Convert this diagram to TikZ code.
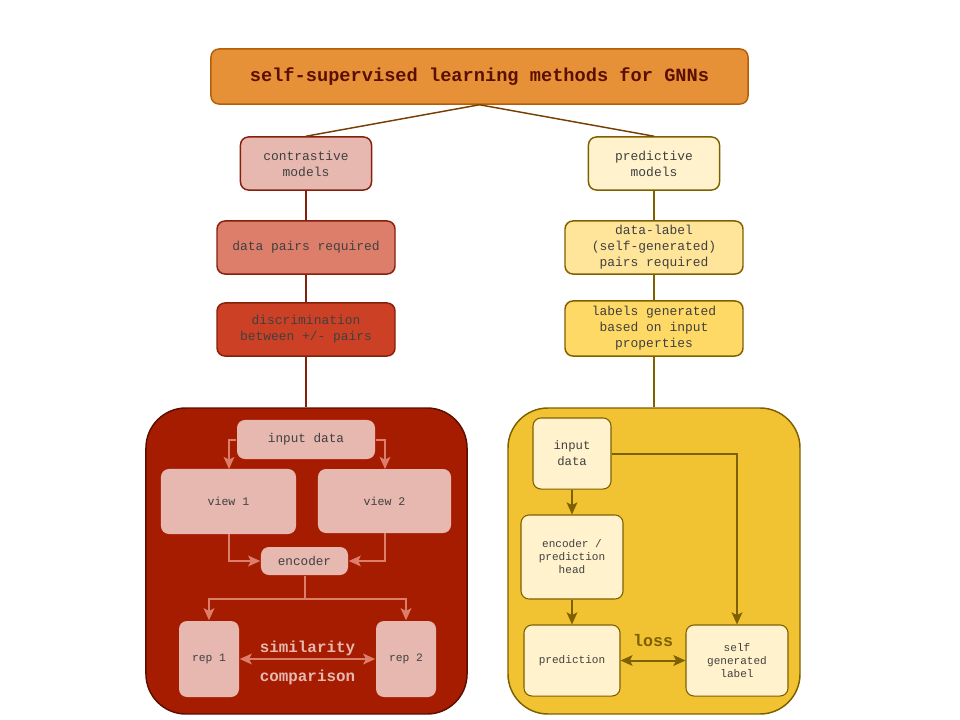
\documentclass[tikz,border=0pt]{standalone}
\usepackage{fontspec}
\setmonofont{Liberation Mono}
\usetikzlibrary{arrows.meta,positioning}
\usepackage{xcolor}
\definecolor{orangeF}{HTML}{E69138}
\definecolor{orangeD}{HTML}{B45F06}
\definecolor{brownT}{HTML}{5B0F00}
\definecolor{brownL}{HTML}{783F04}
\definecolor{redA}{HTML}{E6B8AF}
\definecolor{redB}{HTML}{DD7E6B}
\definecolor{redC}{HTML}{CC4125}
\definecolor{redD}{HTML}{A61C00}
\definecolor{redE}{HTML}{85200C}
\definecolor{yelA}{HTML}{FFF2CC}
\definecolor{yelB}{HTML}{FFE599}
\definecolor{yelC}{HTML}{FFD966}
\definecolor{yelD}{HTML}{F1C232}
\definecolor{yelE}{HTML}{7F6000}
\definecolor{txt}{HTML}{404040}

\begin{document}
\begin{tikzpicture}[
      x=0.75pt, y=-0.75pt,
      box/.style={draw, rounded corners=6pt, line width=1.1pt, align=center, text=txt,
                  font=\ttfamily\fontsize{9.7}{12}\selectfont, inner sep=0pt},
      red/.style={box, draw=redE, minimum width=133.5pt, minimum height=39.8pt},
      yel/.style={box, draw=yelE, minimum width=133.5pt, minimum height=39.8pt},
      group/.style={draw, rounded corners=30pt, line width=1.1pt, minimum width=#1, minimum height=229.5pt},
      inl/.style={box, draw=none, fill=redA},
      inr/.style={box, draw=yelE, line width=0.8pt, fill=yelA, font=\ttfamily\fontsize{8.3}{9.75}\selectfont},
      link/.style={line width=1.1pt},
      tip/.tip={Stealth[length=9pt,width=8pt,inset=2pt]},
      arrl/.style={-tip, line width=1.5pt, redB},
      arrr/.style={-tip, line width=1.5pt, yelE}
    ]
    \useasboundingbox (0,0) rectangle (960,720);

    % top of the tree
    \node[box, fill=orangeF, draw=orangeD, text=brownT, minimum width=402.8pt, minimum height=41.3pt,
          font=\ttfamily\bfseries\fontsize{14}{16}\selectfont] (title) at (479.5,76.5)
          {self-supervised learning methods for GNNs};

    % contrastive branch
    \node[red, fill=redA, minimum width=98.3pt] (contr) at (306,163.5) {contrastive\\models};
    \node[red, fill=redB] (pairs) at (306,247.5) {data pairs required};
    \node[red, fill=redC] (discr) at (306,329.5) {discrimination\\between +/- pairs};

    % predictive branch
    \node[yel, fill=yelA, minimum width=98.3pt] (pred) at (654,163.5) {predictive\\models};
    \node[yel, fill=yelB] (dlab) at (654,247.5) {data-label\\(self-generated)\\pairs required};
    \node[yel, fill=yelC, minimum height=41.3pt] (lgen) at (654,328.5) {labels generated\\based on input\\properties};

    % the two groups
    \node[group=240.8pt, fill=redD, draw=brownT] (cgrp) at (306.5,561) {};
    \node[group=219pt, fill=yelD, draw=yelE] (pgrp) at (654,561) {};

    \draw[link, brownL] (title.south) -- (contr.north);
    \draw[link, brownL] (title.south) -- (pred.north);
    \draw[link, redE] (contr) -- (pairs);
    \draw[link, redE] (pairs) -- (discr);
    \draw[link, redE] (discr.south) -- (cgrp.north -| discr.south);
    \draw[link, yelE] (pred) -- (dlab);
    \draw[link, yelE] (dlab) -- (lgen);
    \draw[link, yelE] (lgen.south) -- (pgrp.north -| lgen.south);

    % inside the contrastive group
    \node[inl, minimum width=103.5pt, minimum height=29.3pt, font=\ttfamily\fontsize{9.5}{11}\selectfont] (inL) at (306,439.5) {input data};
    \node[inl, minimum width=101.3pt, minimum height=48.8pt, font=\ttfamily\fontsize{8.7}{10}\selectfont] (view1) at (228.5,501.5) {view 1};
    \node[inl, minimum width=99.8pt, minimum height=48pt, font=\ttfamily\fontsize{8.7}{10}\selectfont] (view2) at (384.5,501) {view 2};
    \node[inl, minimum width=65.3pt, minimum height=21pt, font=\ttfamily\fontsize{9.5}{11}\selectfont] (enc) at (304.5,561) {encoder};
    \node[inl, minimum width=45pt, minimum height=57pt, font=\ttfamily\fontsize{8.5}{10}\selectfont] (rep1) at (209,659) {rep 1};
    \node[inl, minimum width=45pt, minimum height=57pt, font=\ttfamily\fontsize{8.5}{10}\selectfont] (rep2) at (406,659) {rep 2};

    \draw[arrl] (inL.west) -| (229,469);
    \draw[arrl] (inL.east) -| (385,469);
    \draw[arrl] (229,534) |- (enc.west);
    \draw[arrl] (385,533) |- (enc.east);
    \draw[arrl] (enc.south) -- (304.5,599) -| (rep1.north);
    \draw[arrl] (enc.south) -- (304.5,599) -| (rep2.north);
    \draw[arrl, tip-tip] (rep1) --
      node[above=-1.5pt, text=redA, font=\ttfamily\bfseries\fontsize{11.9}{14}\selectfont] {similarity}
      node[below=4.5pt, text=redA, font=\ttfamily\bfseries\fontsize{11.9}{14}\selectfont] {comparison} (rep2);

    % inside the predictive group
    \node[inr, minimum width=58.5pt, minimum height=53.3pt, font=\ttfamily\fontsize{9.2}{12}\selectfont] (inR) at (572,453.5) {input\\data};
    \node[inr, minimum width=76.5pt, minimum height=63pt] (head) at (572,557) {encoder /\\prediction\\head};
    \node[inr, minimum width=72pt, minimum height=53.3pt] (predn) at (572,660.5) {prediction};
    \node[inr, minimum width=76.5pt, minimum height=53.3pt] (slab) at (737,660.5) {self\\generated\\label};

    \draw[arrr] (inR) -- (head);
    \draw[arrr] (head) -- (predn);
    \draw[arrr] (inR.east) -| (slab.north);
    \draw[arrr, tip-tip] (predn) --
      node[above=6pt, text=yelE, font=\ttfamily\bfseries\fontsize{12.5}{14}\selectfont] {loss} (slab);
  \end{tikzpicture}
\end{document}
